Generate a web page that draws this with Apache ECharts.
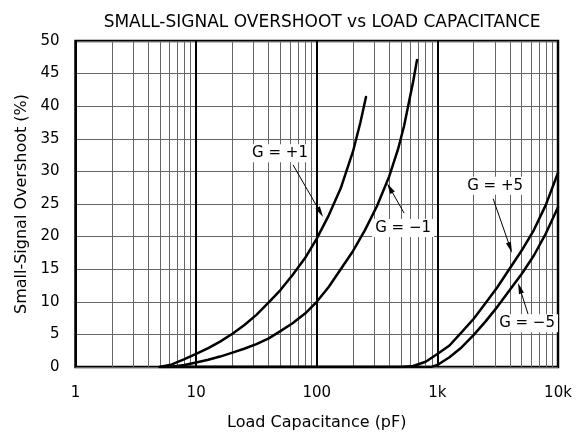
<!DOCTYPE html>
<html>
<head>
<meta charset="utf-8">
<script src="https://cdn.jsdelivr.net/npm/echarts@6/dist/echarts.min.js"></script>
<style>
html,body{margin:0;padding:0;background:#fff;}
#chart{width:577px;height:439px;}
</style>
</head>
<body>
<div id="chart"></div>
<script>
// ---- data ----
const xTickLabels = {1: '1', 10: '10', 100: '100', 1000: '1k', 10000: '10k'};
const minorGridCaps = [2,3,4,5,6,7,8,9,20,30,40,50,60,70,80,90,200,300,400,500,600,700,800,900,2000,3000,4000,5000,6000,7000,8000,9000];

const capGp1 = [5, 6.3, 8, 10, 12.6, 15.8, 20, 25, 31.6, 40, 50, 63, 80, 100, 126, 158, 200, 230, 256];
const ovGp1  = [0, 0.4, 1.2, 2.0, 2.9, 3.9, 5.1, 6.4, 8.0, 9.9, 11.8, 14.1, 16.7, 19.7, 23.3, 27.4, 33.1, 37.5, 41.4];

const capGm1 = [6, 8, 10, 12.6, 15.8, 20, 25, 31.6, 40, 50, 63, 80, 100, 126, 158, 200, 251, 316, 398, 472, 530, 582, 630, 678];
const ovGm1  = [0, 0.3, 0.7, 1.1, 1.6, 2.2, 2.8, 3.5, 4.4, 5.5, 6.7, 8.2, 10.0, 12.3, 15.0, 17.8, 21.0, 24.7, 29.2, 33.4, 37.0, 40.7, 43.8, 47.1];

const capGp5 = [5, 500, 630, 800, 1000, 1260, 1585, 2000, 2512, 3162, 3981, 5012, 6310, 7943, 10000];
const ovGp5  = [0, 0, 0.15, 0.8, 2.0, 3.3, 5.3, 7.4, 9.8, 12.3, 15.1, 17.9, 21.0, 24.9, 29.8];

const capGm5 = [5, 800, 900, 1000, 1260, 1585, 1995, 2512, 3162, 3981, 5012, 6310, 7943, 10000];
const ovGm5  = [0, 0, 0.05, 0.3, 1.5, 3.0, 4.9, 7.0, 9.3, 11.8, 14.3, 17.1, 20.5, 24.5];

// annotations: label text, label position (cap, %), arrow start, arrow tip
const annLabels = ['G = +1', 'G = \u22121', 'G = +5', 'G = \u22125'];
const annLabelPos = [[49.6, 32.8], [520, 21.3], [3010, 27.8], [5540, 6.7]];
const annArrowFrom = [[63.6, 31.0], [530, 23.6], [2900, 25.8], [5650, 8.1]];
const annArrowTo   = [[112.8, 23.0], [383, 28.2], [4160, 17.5], [4670, 12.9]];

function pairs(xs, ys){ return xs.map((x,i)=>[x, ys[i]]); }

const FONT = '"DejaVu Sans", Verdana, sans-serif';
const chart = echarts.init(document.getElementById('chart'), null, {renderer:'canvas'});

function curve(name, xs, ys){
  return {
    name, type:'line', data: pairs(xs, ys), showSymbol:false, symbol:'none',
    smooth:false, z:5,
    lineStyle:{color:'#000', width:2.5, join:'round', cap:'round'}, silent:true
  };
}

const option = {
  animation:false,
  backgroundColor:'#fff',
  title:{
    text:'SMALL-SIGNAL OVERSHOOT vs LOAD CAPACITANCE',
    left:317, top:9, textAlign:'center',
    textStyle:{fontFamily:FONT, fontSize:17, fontWeight:'normal', color:'#000'}
  },
  grid:{left:75.5, right:19, top:41, bottom:72, show:true, borderColor:'#000', borderWidth:2.5, backgroundColor:'transparent'},
  xAxis:{
    type:'log', logBase:10, min:1, max:10000,
    name:'Load Capacitance (pF)', nameLocation:'middle', nameGap:48,
    nameTextStyle:{fontFamily:FONT, fontSize:16, color:'#000'},
    axisLine:{show:false}, axisTick:{show:false},
    axisLabel:{fontFamily:FONT, fontSize:15, color:'#000', margin:19,
      formatter:(v)=> xTickLabels[Math.round(v)] !== undefined ? xTickLabels[Math.round(v)] : ''},
    splitLine:{show:true, lineStyle:{color:'#000', width:2}}
  },
  yAxis:{
    type:'value', min:0, max:50, interval:5,
    name:'Small-Signal Overshoot (%)', nameLocation:'middle', nameGap:45,
    nameTextStyle:{fontFamily:FONT, fontSize:16, color:'#000'},
    axisLine:{show:false}, axisTick:{show:false},
    axisLabel:{fontFamily:FONT, fontSize:15, color:'#000', margin:16},
    splitLine:{show:true, lineStyle:{color:'#666', width:1}}
  },
  series:[
    {
      name:'minorGrid', type:'line', data:[], silent:true, z:1,
      markLine:{
        silent:true, symbol:['none','none'], animation:false,
        label:{show:false},
        lineStyle:{color:'#666', width:1, type:'solid'},
        data: minorGridCaps.map(c=>({xAxis:c}))
      }
    },
    curve('G=+1', capGp1, ovGp1),
    curve('G=-1', capGm1, ovGm1),
    curve('G=+5', capGp5, ovGp5),
    curve('G=-5', capGm5, ovGm5),
    {
      name:'arrows', type:'custom', z:8, silent:true, clip:false,
      data: annArrowFrom.map((f,i)=>[f[0], f[1], annArrowTo[i][0], annArrowTo[i][1]]),
      encode:{x:[0,2], y:[1,3]},
      renderItem:function(params, api){
        const p1 = api.coord([api.value(0), api.value(1)]);
        const p2 = api.coord([api.value(2), api.value(3)]);
        const dx = p2[0]-p1[0], dy = p2[1]-p1[1];
        const len = Math.sqrt(dx*dx+dy*dy);
        const ux = dx/len, uy = dy/len;
        const hl = 11, hw = 2.6;
        const bx = p2[0]-ux*hl, by = p2[1]-uy*hl;
        const nx = -uy, ny = ux;
        return {
          type:'group',
          children:[
            {type:'line', shape:{x1:p1[0], y1:p1[1], x2:bx+ux*2, y2:by+uy*2}, style:{stroke:'#000', lineWidth:1}},
            {type:'polygon', shape:{points:[[p2[0],p2[1]],[bx+nx*hw, by+ny*hw],[bx-nx*hw, by-ny*hw]]}, style:{fill:'#000'}}
          ]
        };
      }
    },
    {
      name:'labels', type:'custom', z:9, silent:true, clip:false,
      data: annLabelPos.map((p,i)=>[p[0], p[1], i]),
      encode:{x:0, y:1},
      renderItem:function(params, api){
        const p = api.coord([api.value(0), api.value(1)]);
        const idx = api.value(2);
        return {
          type:'text',
          x:p[0], y:p[1],
          style:{
            text: annLabels[idx], fill:'#000',
            font: '15px ' + FONT, align:'center', verticalAlign:'middle',
            backgroundColor:'#fff', padding:[2,3,1,3]
          }
        };
      }
    }
  ]
};
chart.setOption(option);
</script>
</body>
</html>
